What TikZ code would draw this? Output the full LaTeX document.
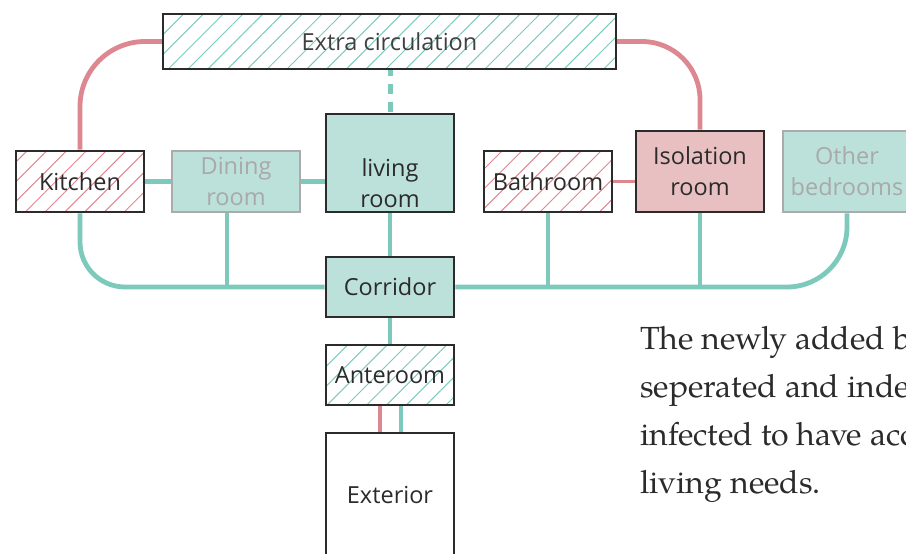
\documentclass[tikz,border=0pt]{standalone}
\usepackage{fontspec}
\setmainfont{Open Sans}
\newfontfamily\pala{texgyrepagella-regular.otf}
\usetikzlibrary{patterns.meta,backgrounds}
\definecolor{tealL}{HTML}{7DCABD}
\definecolor{tealF}{HTML}{BCE0DA}
\definecolor{pinkL}{HTML}{DD8890}
\definecolor{pinkF}{HTML}{E8C0C1}
\definecolor{ink}{HTML}{2B2B2B}
\definecolor{greyT}{HTML}{A9A9A9}
\definecolor{greyB}{HTML}{ABABAB}
\tikzset{
  room/.style={draw=ink, line width=2.8pt, minimum width=128pt, inner sep=0pt,
    align=center, text=ink, font=\fontsize{23.5}{31}\selectfont},
  fillteal/.style={fill=tealF},
  fillpink/.style={fill=pinkF},
  faded/.style={draw=greyB, text=greyT, fill=tealF},
  hatchteal/.style={pattern={Lines[angle=45,distance=14pt,line width=1pt]}, pattern color=tealL},
  hatchpink/.style={pattern={Lines[angle=45,distance=14pt,line width=1pt]}, pattern color=pinkL},
  txt/.style={inner sep=0pt, align=center, text=ink, font=\fontsize{23.5}{31}\selectfont},
  tline/.style={draw=tealL, line width=4.8pt},
  pline/.style={draw=pinkL, line width=4.8pt},
  bodytxt/.style={inner sep=0pt, anchor=base west, text=ink, font=\pala\fontsize{32}{48}\selectfont}
}
\begin{document}
\begin{tikzpicture}[x=1pt,y=-1pt]
\useasboundingbox (0,0) rectangle (906,554);
\clip (0,0) rectangle (906,554);
% rooms
\node[room, hatchteal, minimum width=453pt, minimum height=55pt, text=ink!90] (extra) at (389.5,41.5) {Extra circulation};
\node[room, hatchpink, minimum height=61pt] (kitchen) at (80,181.5) {Kitchen};
\node[room, faded, minimum height=61pt] (dining) at (236,181.5) {Dining\\room};
\node[room, fillteal, minimum height=98pt] (living) at (390,163) {};
\node[txt] (livingtxt) at (390,183) {living\\room};
\node[room, hatchpink, minimum height=61pt] (bath) at (548,181.5) {Bathroom};
\node[room, fillpink, minimum height=81pt] (iso) at (700,171.5) {Isolation\\room};
\node[room, faded, minimum height=81pt] (other) at (847,171.5) {Other\\bedrooms};
\node[room, fillteal, minimum height=60pt] (corridor) at (390,287) {Corridor};
\node[room, hatchteal, minimum height=60pt] (ante) at (390,375) {Anteroom};
\node[room, fill=white, minimum height=124pt] (exterior) at (390,495) {Exterior};
% connectors
\begin{scope}[on background layer]
  \draw[tline, rounded corners=45pt] (kitchen.south) |- (corridor.west);
  \draw[tline, rounded corners=60pt] (corridor.east) -| (other.south);
  \coordinate (dtap) at ([xshift=-9pt]dining.south);
  \draw[tline] (dtap) -- (dtap |- corridor.west);
  \draw[tline] (bath.south) -- (bath.south |- corridor.east);
  \draw[tline] (iso.south) -- (iso.south |- corridor.east);
  \draw[tline] (living.south) -- (corridor.north);
  \draw[tline] (kitchen.east) -- (kitchen.east -| dining.west);
  \draw[tline] (dining.east) -- (dining.east -| living.west);
  \draw[pline, line width=3pt] (bath.east) -- (bath.east -| iso.west);
  \draw[tline, dash pattern=on 10pt off 8pt, dash phase=4pt] ([xshift=1pt]extra.south) -- ([xshift=1pt]extra.south |- living.north);
  \draw[pline, rounded corners=65pt] (kitchen.north) |- (extra.west);
  \draw[pline, rounded corners=58pt] (extra.east) -| (iso.north);
  \draw[tline] (corridor.south) -- (ante.north);
  \coordinate (ap) at ([xshift=-10pt]ante.south);
  \coordinate (at) at ([xshift=11pt]ante.south);
  \draw[pline] (ap) -- (ap |- exterior.north);
  \draw[tline] (at) -- (at |- exterior.north);
\end{scope}
% body text
\node[bodytxt] (l1) at (640,349) {The newly added b};
\node[bodytxt] (l2) at (640,397) {seperated and inde};
\node[bodytxt] (l3) at (640,445) {infected to have acc};
\node[bodytxt] (l4) at (640,493) {living needs.};
\end{tikzpicture}
\end{document}
